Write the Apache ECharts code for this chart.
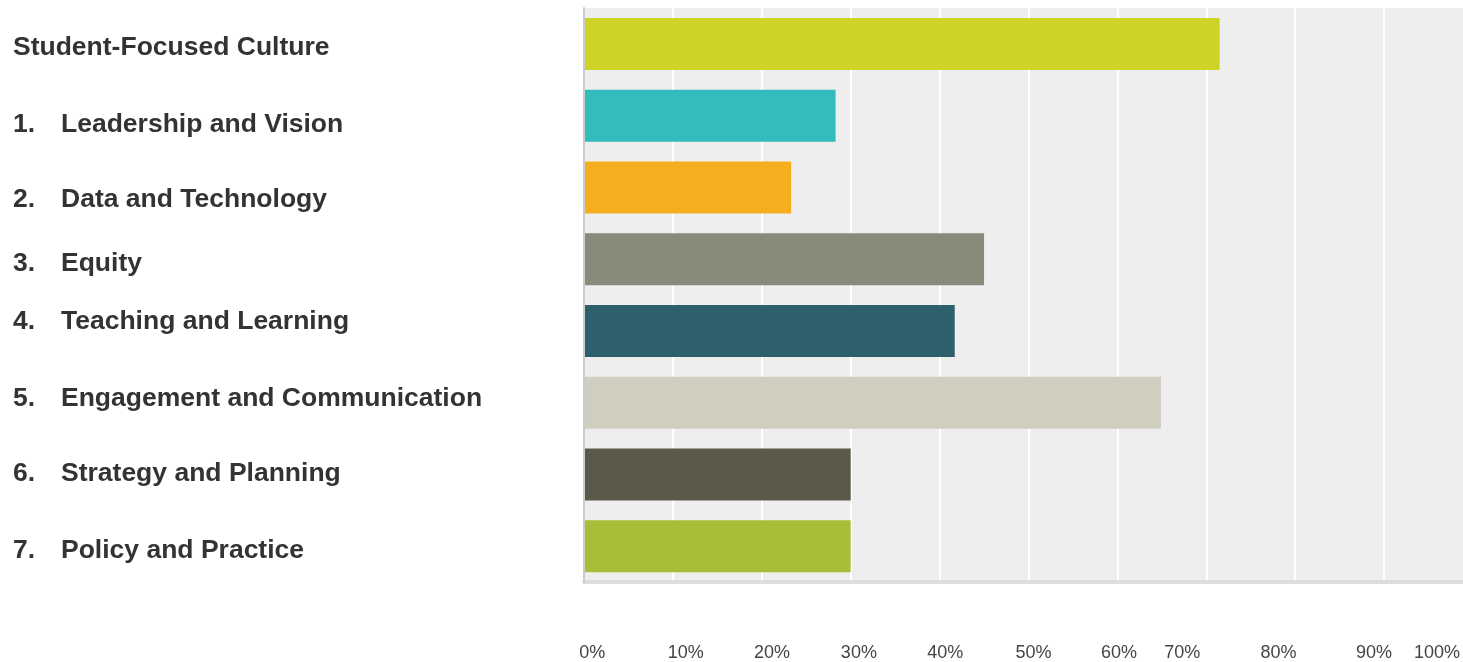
<!DOCTYPE html>
<html>
<head>
<meta charset="utf-8">
<title>Focus areas</title>
<script src="https://cdn.jsdelivr.net/npm/echarts@6/dist/echarts.min.js"></script>
<style>
  html, body { margin: 0; padding: 0; background: #fff; }
  #chart { width: 1463px; height: 662px; }
</style>
</head>
<body>
<div id="chart"></div>
<script>
// Category names and their list numbers
const categories = [
  'Student-Focused Culture',
  'Leadership and Vision',
  'Data and Technology',
  'Equity',
  'Teaching and Learning',
  'Engagement and Communication',
  'Strategy and Planning',
  'Policy and Practice'
];
const itemNumbers = ['', '1.', '2.', '3.', '4.', '5.', '6.', '7.'];

// Share of responses per category (%)
const shares = [71.5, 28.3, 23.3, 45.0, 41.7, 64.9, 30.0, 30.0];

// Percent tick labels
const tickLabels = ['0%', '10%', '20%', '30%', '40%', '50%', '60%', '70%', '80%', '90%', '100%'];

// Bar fill per category
const barColors = ['#CED426', '#32BCBE', '#F5AE1F', '#898A79', '#2E5F6C', '#D0CEBF', '#5B5A4A', '#A9BD38'];

// Where along each axis the text labels sit (axis units)
const tickLabelAnchors = [0.92, 11.45, 21.14, 30.92, 40.63, 50.55, 60.19, 67.30, 78.12, 88.87, 95.94];
const rowLabelAnchors = [0.56, 1.62, 2.67, 3.57, 4.37, 5.44, 6.49, 7.56];

const FONT = '"Liberation Sans", Arial, Helvetica, sans-serif';

const chart = echarts.init(document.getElementById('chart'), null, { renderer: 'canvas' });

chart.setOption({
  animation: false,
  backgroundColor: '#ffffff',
  grid: {
    left: 584,
    top: 8,
    width: 889,
    height: 574,
    show: true,
    backgroundColor: '#eeeeee',
    borderWidth: 0,
    containLabel: false,
    outerBoundsMode: 'none'
  },
  xAxis: {
    type: 'value',
    position: 'bottom',
    min: 0,
    max: 100,
    interval: 10,
    axisLine: { show: true, onZero: false, lineStyle: { color: '#dddddd', width: 4 } },
    axisTick: { show: false },
    splitLine: { show: true, lineStyle: { color: '#ffffff', width: 2 } },
    axisLabel: {
      customValues: tickLabelAnchors,
      formatter: function (v) {
        const i = tickLabelAnchors.indexOf(v);
        return i >= 0 ? tickLabels[i] : '';
      },
      margin: 62,
      color: '#444444',
      fontFamily: FONT,
      fontSize: 18,
      hideOverlap: false
    }
  },
  yAxis: [
    {
      type: 'category',
      data: categories,
      inverse: true,
      z: 3,
      axisLine: { show: true, onZero: false, lineStyle: { color: '#cccccc', width: 2 } },
      axisTick: { show: false },
      axisLabel: { show: false },
      splitLine: { show: false }
    },
    {
      type: 'value',
      position: 'left',
      min: 0,
      max: 8,
      inverse: true,
      axisLine: { show: false, onZero: false },
      axisTick: { show: false },
      splitLine: { show: false },
      axisLabel: {
        customValues: rowLabelAnchors,
        align: 'left',
        margin: 571,
        formatter: function (v) {
          const i = rowLabelAnchors.indexOf(v);
          if (i < 0) return '';
          return itemNumbers[i]
            ? '{n|' + itemNumbers[i] + '}{t|' + categories[i] + '}'
            : '{t|' + categories[i] + '}';
        },
        rich: {
          n: { width: 48, fontFamily: FONT, fontSize: 26.5, fontWeight: 'bold', color: '#333333' },
          t: { fontFamily: FONT, fontSize: 26.5, fontWeight: 'bold', color: '#333333' }
        },
        hideOverlap: false
      }
    }
  ],
  series: [
    {
      type: 'bar',
      yAxisIndex: 0,
      barWidth: 52,
      data: shares.map(function (v, i) {
        return { value: v, itemStyle: { color: barColors[i] } };
      }),
      silent: true
    }
  ]
});
</script>
</body>
</html>
